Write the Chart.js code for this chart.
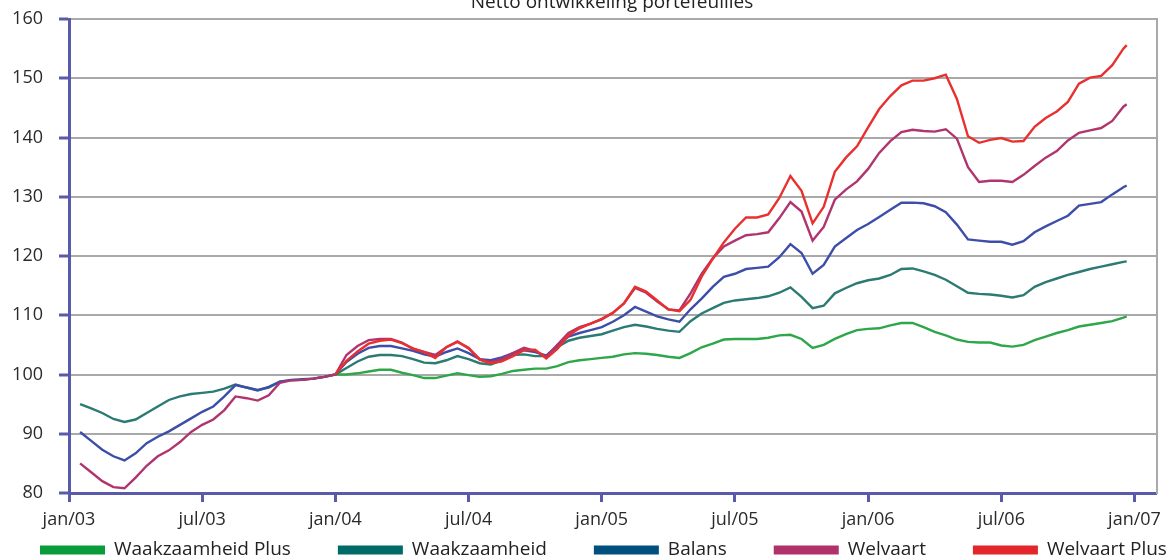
<!DOCTYPE html>
<html>
<head>
<meta charset="utf-8">
<script src="https://cdn.jsdelivr.net/npm/chart.js@4.4.0/dist/chart.umd.min.js"></script>
<style>
html,body{margin:0;padding:0;background:#fff;overflow:hidden}
#wrap{position:relative;width:1168px;height:559px}
canvas{display:block}
</style>
</head>
<body>
<div id="wrap"><canvas id="c" width="1168" height="559"></canvas></div>
<script>
// ---- DATA ----
const chartTitle = 'Netto ontwikkeling portefeuilles';
const tickMonths = [0, 6, 12, 18, 24, 30, 36, 42, 48];
const tickLabels = ['jan/03','jul/03','jan/04','jul/04','jan/05','jul/05','jan/06','jul/06','jan/07'];
const seriesNames = ['Waakzaamheid Plus','Waakzaamheid','Balans','Welvaart','Welvaart Plus'];

// months since jan/03
const months = [
 0.5,1,1.5,2,2.5,3,3.5,4,4.5,5,5.5,6,6.5,7,7.5,8,8.5,9,9.5,10,10.5,11,11.5,
 12,12.5,13,13.5,14,14.5,15,15.5,16,16.5,17,17.5,18,18.5,19,19.5,20,20.5,21,21.5,22,22.5,23,23.5,
 24,24.5,25,25.5,26,26.5,27,27.5,28,28.5,29,29.5,30,30.5,31,31.5,32,32.5,33,33.5,34,34.5,35,35.5,
 36,36.5,37,37.5,38,38.5,39,39.5,40,40.5,41,41.5,42,42.5,43,43.5,44,44.5,45,45.5,46,46.5,47,47.5,47.65
];

const waakzaamheidPlus = [
 null,null,null,null,null,null,null,null,null,null,null,null,null,null,null,null,null,null,null,null,null,null,null,
 100.0,100.0,100.2,100.5,100.8,100.8,100.3,99.9,99.4,99.4,99.8,100.2,99.9,99.6,99.7,100.1,100.6,100.8,101.0,101.0,101.4,102.1,102.4,102.6,
 102.8,103.0,103.4,103.6,103.5,103.3,103.0,102.8,103.6,104.6,105.2,105.9,106.0,106.0,106.0,106.2,106.6,106.7,106.0,104.5,105.0,106.0,106.8,107.5,
 107.7,107.8,108.3,108.7,108.7,108.0,107.2,106.6,105.9,105.5,105.4,105.4,104.9,104.7,105.0,105.8,106.4,107.0,107.5,108.1,108.4,108.7,109.0,109.6,109.8
];

const waakzaamheid = [
 95.0,94.3,93.5,92.5,92.0,92.4,93.5,94.6,95.7,96.3,96.7,96.9,97.1,97.6,98.3,97.8,97.4,97.8,98.8,99.0,99.1,99.3,99.6,
 100.0,101.1,102.2,103.0,103.3,103.3,103.1,102.6,102.0,101.9,102.4,103.1,102.6,101.9,101.7,102.4,103.3,103.4,103.1,103.1,104.6,105.7,106.2,106.5,
 106.8,107.4,108.0,108.4,108.1,107.7,107.4,107.2,109.0,110.3,111.2,112.1,112.5,112.7,112.9,113.2,113.8,114.7,113.1,111.2,111.6,113.7,114.6,115.4,
 115.9,116.2,116.8,117.8,117.9,117.4,116.8,116.0,114.9,113.8,113.6,113.5,113.3,113.0,113.4,114.8,115.6,116.2,116.8,117.3,117.8,118.2,118.6,119.0,119.1
];

const balans = [
 90.3,88.8,87.3,86.2,85.5,86.7,88.4,89.5,90.4,91.5,92.6,93.7,94.6,96.3,98.2,97.8,97.3,97.9,98.8,99.1,99.2,99.3,99.6,
 100.0,102.1,103.5,104.5,104.8,104.8,104.4,104.0,103.4,103.0,103.8,104.4,103.6,102.6,102.4,102.9,103.6,104.1,103.8,103.2,104.9,106.4,107.0,107.5,
 108.0,108.9,110.0,111.4,110.6,109.8,109.3,108.9,111.0,112.8,114.8,116.5,117.0,117.8,118.0,118.2,119.8,122.0,120.5,117.0,118.5,121.6,123.0,124.4,
 125.4,126.6,127.8,129.0,129.0,128.9,128.4,127.4,125.3,122.8,122.6,122.4,122.4,121.9,122.5,124.0,125.0,125.9,126.8,128.5,128.8,129.1,130.4,131.6,131.9
];

const welvaart = [
 85.0,83.5,82.0,81.0,80.8,82.6,84.6,86.2,87.2,88.6,90.3,91.5,92.4,94.0,96.3,96.0,95.6,96.5,98.6,99.0,99.1,99.3,99.6,
 100.0,103.3,104.8,105.8,106.0,106.0,105.4,104.3,103.8,103.3,104.6,105.6,104.4,102.6,102.1,102.6,103.6,104.5,104.0,103.0,105.0,107.0,108.0,108.6,
 109.3,110.4,112.0,114.6,113.8,112.3,111.0,110.8,113.7,117.0,119.6,121.6,122.6,123.5,123.7,124.0,126.4,129.1,127.5,122.6,124.9,129.5,131.2,132.6,
 134.7,137.4,139.4,140.9,141.3,141.1,141.0,141.4,139.8,135.0,132.5,132.7,132.7,132.5,133.7,135.2,136.6,137.7,139.5,140.8,141.2,141.6,142.8,145.2,145.6
];

const welvaartPlus = [
 null,null,null,null,null,null,null,null,null,null,null,null,null,null,null,null,null,null,null,null,null,null,null,
 100.0,102.3,103.9,105.2,105.7,105.9,105.3,104.4,103.8,102.8,104.6,105.5,104.5,102.5,101.9,102.2,103.1,104.1,104.2,102.7,104.3,106.6,107.8,108.6,
 109.4,110.4,112.0,114.8,114.0,112.5,111.0,110.7,112.6,116.5,119.5,122.3,124.6,126.5,126.5,127.0,129.8,133.5,131.0,125.5,128.3,134.2,136.6,138.5,
 141.7,144.8,147.0,148.8,149.6,149.6,150.0,150.6,146.5,140.2,139.1,139.6,139.9,139.3,139.4,141.8,143.3,144.4,146.0,149.1,150.1,150.4,152.2,155.0,155.6
];

const seriesValues = [waakzaamheidPlus, waakzaamheid, balans, welvaart, welvaartPlus];

// ---- STYLE ----
const lineColors = ['#2ea64a', '#2b7a74', '#3d4ea8', '#b0356f', '#e8302e'];
const swatchColors = ['#0a9b3b', '#006b66', '#00507f', '#b03268', '#e2262b'];
const drawOrder = [5, 4, 3, 2, 1];
const axisBlue = '#5a5aaa';
const gridGray = '#a9a9a9';
const fontFamily = '"Open Sans", "DejaVu Sans", sans-serif';
const textColor = '#2a2a2a';

const datasets = seriesNames.map((name, i) => ({
  label: name,
  data: months.map((m, j) => ({ x: m, y: seriesValues[i][j] })).filter(p => p.y !== null),
  borderColor: lineColors[i],
  backgroundColor: lineColors[i],
  swatchColor: swatchColors[i],
  borderWidth: 2.4,
  pointRadius: 0,
  tension: 0,
  fill: false,
  order: drawOrder[i]
}));

const decorPlugin = {
  id: 'decor',
  afterDraw(chart) {
    const ctx = chart.ctx;
    ctx.save();
    // title (partly cut off at the top, as in the source)
    ctx.font = '19px ' + fontFamily;
    ctx.fillStyle = '#222';
    ctx.textAlign = 'center';
    ctx.textBaseline = 'alphabetic';
    ctx.fillText(chartTitle, 612, 8);
    // legend
    ctx.font = '19px ' + fontFamily;
    ctx.textAlign = 'left';
    ctx.textBaseline = 'middle';
    let x = 40;
    const yMid = 550;
    chart.data.datasets.forEach(ds => {
      ctx.fillStyle = ds.swatchColor;
      ctx.fillRect(x, yMid - 4.5, 65, 9);
      x += 65 + 9;
      ctx.fillStyle = '#222';
      ctx.fillText(ds.label, x, yMid);
      x += ctx.measureText(ds.label).width + 47;
    });
    ctx.restore();
  }
};

new Chart(document.getElementById('c'), {
  type: 'line',
  data: { datasets },
  plugins: [decorPlugin],
  options: {
    responsive: false,
    animation: false,
    devicePixelRatio: 1,
    layout: { padding: { left: 0, right: 7, top: 19, bottom: 0 } },
    plugins: {
      legend: { display: false },
      title: { display: false },
      tooltip: { enabled: false }
    },
    scales: {
      x: {
        type: 'linear',
        min: 0,
        max: 49,
        afterBuildTicks(s) { s.ticks = tickMonths.map(v => ({ value: v })); },
        afterFit(s) { s.height = 66; },
        ticks: {
          autoSkip: false,
          maxRotation: 0,
          padding: 7,
          color: textColor,
          font: { family: fontFamily, size: 18 },
          callback: v => tickLabels[tickMonths.indexOf(v)]
        },
        grid: {
          drawOnChartArea: false,
          drawTicks: true,
          tickLength: 9,
          tickColor: axisBlue,
          tickWidth: 3,
          color: axisBlue
        },
        border: { display: true, color: axisBlue, width: 3 }
      },
      y: {
        min: 80,
        max: 160,
        afterFit(s) { s.width = 69; },
        ticks: {
          stepSize: 10,
          padding: 16,
          color: textColor,
          font: { family: fontFamily, size: 18, lineHeight: 0.3 }
        },
        grid: {
          color: c => (c.tick && c.tick.value === 80) ? 'rgba(0,0,0,0)' : gridGray,
          lineWidth: 2,
          drawTicks: true,
          tickLength: 10,
          tickColor: axisBlue,
          tickWidth: 3
        },
        border: { display: true, color: axisBlue, width: 3 }
      },
      y2: {
        position: 'right',
        min: 80,
        max: 160,
        afterFit(s) { s.width = 0; },
        ticks: { display: false },
        grid: { drawOnChartArea: false, drawTicks: false },
        border: { display: true, color: gridGray, width: 2 }
      }
    }
  }
});
</script>
</body>
</html>
